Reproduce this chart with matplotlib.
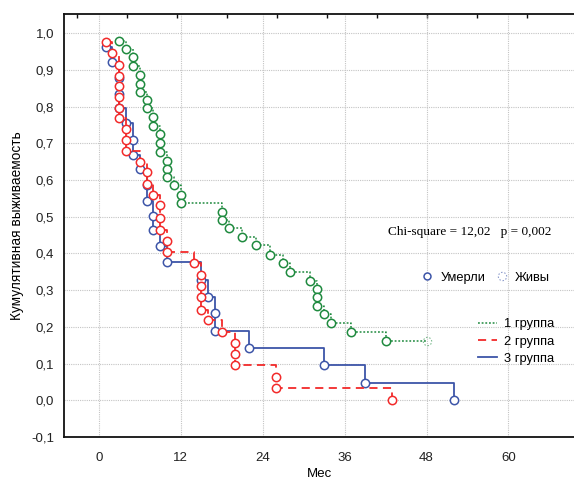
#!/usr/bin/env python3
"""Kaplan-Meier style cumulative survival plot for three groups."""

import numpy as np
import matplotlib
matplotlib.use("Agg")
import matplotlib.pyplot as plt
from matplotlib.path import Path
from matplotlib.lines import Line2D

plt.rcParams['font.family'] = ['Liberation Sans', 'DejaVu Sans']

# group 1 (green): event times (months) and survival after each event
g1_time = [3.0, 4.0, 5.0, 5.0, 6.0, 6.0, 6.0, 7.0, 7.0, 8.0, 8.0, 9.0, 9.0, 9.0,
           10.0, 10.0, 10.0, 11.0, 12.0, 12.0, 18.0, 18.0, 19.0, 21.0, 23.0,
           25.0, 27.0, 28.0, 31.0, 32.0, 32.0, 32.0, 33.0, 34.0, 37.0, 42.0]
g1_surv = [0.978, 0.957, 0.934, 0.910, 0.887, 0.862, 0.839, 0.817, 0.795, 0.771,
           0.747, 0.724, 0.700, 0.676, 0.651, 0.631, 0.609, 0.585, 0.560, 0.538,
           0.513, 0.490, 0.469, 0.446, 0.422, 0.397, 0.373, 0.349, 0.326, 0.304,
           0.282, 0.258, 0.234, 0.210, 0.186, 0.162]
g1_censor = 48.0

# group 2 (red)
g2_time = [1.0, 2.0, 3.0, 3.0, 3.0, 3.0, 3.0, 3.0, 4.0, 4.0, 4.0, 6.0, 7.0, 7.0,
           8.0, 9.0, 9.0, 9.0, 10.0, 10.0, 14.0, 15.0, 15.0, 15.0, 15.0, 16.0,
           18.0, 20.0, 20.0, 20.0, 26.0, 26.0, 43.0]
g2_surv = [0.975, 0.945, 0.914, 0.883, 0.856, 0.827, 0.797, 0.768, 0.738, 0.710,
           0.679, 0.648, 0.621, 0.590, 0.560, 0.531, 0.496, 0.465, 0.434, 0.403,
           0.373, 0.342, 0.311, 0.281, 0.247, 0.218, 0.187, 0.155, 0.125, 0.095,
           0.064, 0.033, 0.0]

# group 3 (blue)
g3_time = [1.0, 2.0, 3.0, 3.0, 3.0, 4.0, 5.0, 5.0, 6.0, 7.0, 7.0, 8.0, 8.0, 9.0,
           10.0, 15.0, 16.0, 17.0, 17.0, 22.0, 33.0, 39.0, 52.0]
g3_surv = [0.962, 0.921, 0.877, 0.835, 0.797, 0.754, 0.710, 0.669, 0.629, 0.585,
           0.543, 0.501, 0.463, 0.420, 0.376, 0.328, 0.281, 0.238, 0.190, 0.142,
           0.095, 0.047, 0.0]

group_labels = ["1 группа", "2 группа", "3 группа"]
status_labels = ["Умерли", "Живы"]
stat_text = "Chi-square = 12,02   p = 0,002"

GREEN = '#1f8a3f'
RED = '#f22a2a'
BLUE = '#3d55a8'


def dashed_circle(n=8, frac=0.45):
    """Marker path: circle drawn as short arcs (censored mark)."""
    verts, codes = [], []
    for i in range(n):
        a0 = 2 * np.pi * i / n
        angles = np.linspace(a0, a0 + 2 * np.pi / n * frac, 4)
        for j, a in enumerate(angles):
            verts.append((np.cos(a), np.sin(a)))
            codes.append(Path.MOVETO if j == 0 else Path.LINETO)
    return Path(verts, codes)


CENSOR_MARK = dashed_circle()

fig = plt.figure(figsize=(5.74, 4.83), dpi=100)
ax = fig.add_axes([64 / 574, 1 - 437 / 483, 1 - 64 / 574, (437 - 14) / 483])

marker_kw = dict(marker='o', markersize=6, markeredgewidth=1.1,
                 markerfacecolor='white', linestyle='none')

# group 3 (blue), drawn first
ax.step(g3_time, g3_surv, where='post', color=BLUE, linewidth=1.3, zorder=2)
ax.plot(g3_time, g3_surv, color=BLUE, markeredgecolor=BLUE, zorder=3, **marker_kw)

# group 1 (green)
x1 = g1_time + [g1_censor]
y1 = g1_surv + [g1_surv[-1]]
ax.step(x1, y1, where='post', color=GREEN, linewidth=1.1,
        linestyle=(0, (1.2, 1.2)), zorder=4)
ax.plot(g1_time, g1_surv, color=GREEN, markeredgecolor=GREEN, zorder=5, **marker_kw)
ax.plot([g1_censor], [g1_surv[-1]], marker=CENSOR_MARK, markersize=6,
        markeredgewidth=0.8, markerfacecolor='none', markeredgecolor=GREEN,
        linestyle='none', alpha=0.6, zorder=5)

# group 2 (red)
ax.step(g2_time, g2_surv, where='post', color=RED, linewidth=1.3,
        linestyle=(0, (4.5, 3)), zorder=6)
ax.plot(g2_time, g2_surv, color=RED, markeredgecolor=RED, zorder=7, **marker_kw)

ax.set_xlim(-5.1, 69.6)
ax.set_ylim(-0.1, 1.052)
ax.set_xticks(np.arange(0, 61, 12))
ax.set_yticks(np.arange(-0.1, 1.01, 0.1))
ax.set_yticklabels([f"{v:.1f}".replace('.', ',').replace('-0,0', '0,0')
                    for v in np.arange(-0.1, 1.01, 0.1)])
ax.tick_params(axis='both', length=0, labelsize=9.5, colors='#222222')
ax.tick_params(axis='x', pad=11)
ax.tick_params(axis='y', pad=7)
ax.grid(True, linestyle=(0, (1, 1)), color='#c4c4c4', linewidth=0.8)
ax.set_axisbelow(True)

for side in ['left', 'bottom', 'top']:
    ax.spines[side].set_color('#111111')
    ax.spines[side].set_linewidth(1.3)
ax.spines['right'].set_visible(False)

# small inward ticks along the top spine
top = ax.secondary_xaxis('top')
top.set_xticks([-3.22, 4.1, 11.43, 18.75, 26.08, 33.41, 40.73, 48.06, 55.38, 62.71])
top.set_xticklabels([])
top.tick_params(direction='in', length=3, width=1.0, color='#111111')
top.spines['top'].set_visible(False)

ax.set_ylabel("Кумулятивная выживаемость", fontsize=9.8, labelpad=5)
ax.set_xlabel("Мес", fontsize=9.5, labelpad=3)

ax.text(42.3, 0.457, stat_text, fontsize=9.5, family=['Liberation Serif'],
        va='center', ha='left')

# status legend
h_dead = Line2D([], [], marker='o', markersize=5, markeredgewidth=1.1,
                markerfacecolor='white', markeredgecolor=BLUE, linestyle='none')
h_alive = Line2D([], [], marker=CENSOR_MARK, markersize=6, markeredgewidth=0.8,
                 markerfacecolor='none', markeredgecolor=BLUE, alpha=0.6,
                 linestyle='none')
fig.legend([h_dead, h_alive], status_labels, ncol=2, frameon=False,
           loc='center left', bbox_to_anchor=(421 / 574, 1 - 277.5 / 483),
           borderpad=0, borderaxespad=0, handlelength=1.0,
           handletextpad=0.5, columnspacing=0.8, fontsize=9.3)

# group legend
h_groups = [Line2D([], [], color=GREEN, linewidth=1.1, linestyle=(0, (1.2, 1.2))),
            Line2D([], [], color=RED, linewidth=1.3, linestyle=(0, (4.5, 3))),
            Line2D([], [], color=BLUE, linewidth=1.3)]
fig.legend(h_groups, group_labels, frameon=False, loc='upper left',
           bbox_to_anchor=(478 / 574, 1 - 318 / 483), borderpad=0,
           borderaxespad=0, handlelength=1.5, handletextpad=0.55,
           labelspacing=0.42, fontsize=9.3)

fig.savefig("out.png", dpi=100, facecolor='white')
